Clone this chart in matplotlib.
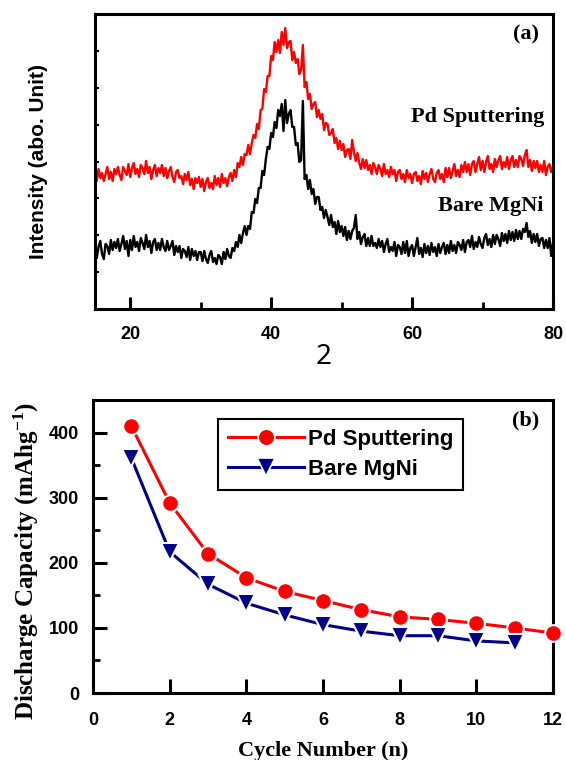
import numpy as np
import matplotlib
matplotlib.use("Agg")
import matplotlib.pyplot as plt
from matplotlib.ticker import MultipleLocator
from matplotlib.lines import Line2D

# ---------------- data ----------------
# XRD patterns (2-theta from 15 to 80 deg, step 0.25), intensity in arbitrary units
two_theta_start = 15.0
two_theta_stop = 80.0
xrd_pd = [
    137,128,140,131,136,128,135,142,130,137,128,140,135,142,134,129,142,138,134,145,
    132,141,146,135,140,132,144,141,135,148,136,142,130,139,144,133,141,136,144,133,
    141,131,138,142,132,127,137,139,131,133,125,135,129,137,124,130,120,131,126,132,
    122,130,118,127,131,121,126,120,133,124,131,122,135,126,131,123,132,136,128,139,
    132,146,142,152,144,155,154,164,155,166,174,171,185,180,199,200,220,217,233,233,
    253,249,267,257,269,256,277,264,281,261,267,268,249,257,246,250,235,239,264,222,
    227,210,215,200,205,207,192,199,190,195,179,186,185,174,176,180,166,171,160,168,
    159,165,152,159,160,150,169,157,148,156,146,140,150,141,149,139,144,135,146,142,
    135,144,140,133,145,135,139,132,142,135,139,128,137,139,130,135,127,139,131,135,
    126,135,137,128,133,125,138,130,136,127,135,140,130,127,136,139,130,135,127,141,
    132,141,131,138,145,133,139,132,144,137,147,137,145,134,145,148,137,145,152,139,
    148,137,147,153,140,145,137,150,142,149,153,140,147,142,152,140,149,153,142,149,
    142,153,150,143,154,159,142,149,138,148,141,148,137,144,137,148,134,142,145,137,
    142,
]
xrd_bare = [
    64,51,62,68,55,50,65,63,55,69,59,67,61,70,58,65,73,60,68,53,
    69,59,73,62,67,58,71,66,60,74,62,68,56,67,70,59,66,59,70,62,
    58,68,59,63,68,54,63,57,63,51,60,58,52,62,49,60,53,58,49,57,
    57,48,58,50,46,54,58,47,51,45,54,52,45,57,50,60,53,51,61,58,
    67,62,74,66,76,83,74,83,80,97,96,110,106,121,121,138,134,150,162,160,
    176,172,187,181,199,193,205,178,209,186,195,199,182,182,164,166,147,149,208,130,
    134,120,129,115,120,105,112,112,99,102,91,99,92,84,94,82,87,75,88,77,
    83,73,82,69,78,70,78,81,94,70,77,65,72,75,63,71,63,73,63,66,
    61,70,62,68,57,65,70,57,62,58,67,53,64,62,55,67,56,68,53,61,
    64,53,62,71,55,61,52,65,56,63,54,66,57,62,53,65,56,62,66,55,
    64,56,68,58,64,56,67,64,59,69,57,67,69,62,73,60,67,62,72,65,
    61,71,75,64,70,62,74,65,74,70,63,76,68,75,66,78,69,77,68,79,
    70,78,70,80,77,86,72,78,66,75,67,75,63,70,71,61,69,61,71,53,
    66,
]
xrd_labels = ["Pd Sputtering", "Bare MgNi"]

# Discharge capacity vs cycle
cycles_pd = [1, 2, 3, 4, 5, 6, 7, 8, 9, 10, 11, 12]
capacity_pd = [410, 292, 214, 177, 156, 142, 128, 117, 113, 107, 100, 92]
cycles_bare = [1, 2, 3, 4, 5, 6, 7, 8, 9, 10, 11]
capacity_bare = [361, 217, 167, 138, 120, 105, 95, 88, 88, 80, 77]

# ---------------- figure ----------------
plt.rcParams["mathtext.fontset"] = "custom"
plt.rcParams["mathtext.rm"] = "Liberation Serif:bold"
plt.rcParams["mathtext.bf"] = "Liberation Serif:bold"
plt.rcParams["mathtext.it"] = "Liberation Serif:bold:italic"

W, H = 566, 760
fig = plt.figure(figsize=(W / 100, H / 100), dpi=100)

def ax_rect(l, r, t, b):
    return [l / W, 1 - b / H, (r - l) / W, (b - t) / H]

SANS = ["Liberation Sans", "DejaVu Sans"]
SERIF = ["Liberation Serif", "DejaVu Serif"]
SPINE_W = 2.2

# ---- panel (a) ----
ax1 = fig.add_axes(ax_rect(95, 553, 14, 309))
tt = np.linspace(two_theta_start, two_theta_stop, len(xrd_pd))
ax1.plot(tt, xrd_bare, color="black", lw=1.7)
ax1.plot(tt, xrd_pd, color="#ff0000", lw=1.7)
ax1.set_xlim(15, 80)
ax1.set_ylim(0, 295)
ax1.xaxis.set_major_locator(MultipleLocator(20))
ax1.xaxis.set_minor_locator(MultipleLocator(10))
ax1.yaxis.set_major_locator(MultipleLocator(295 / 8))
ax1.tick_params(axis="x", which="major", direction="in", length=9, width=2.2, pad=12,
                labelsize=13)
ax1.tick_params(axis="x", which="minor", direction="in", length=5, width=2.0)
ax1.tick_params(axis="y", which="major", direction="in", length=3, width=1.5, labelleft=False)
for lab in ax1.get_xticklabels():
    lab.set_fontfamily(SANS)
    lab.set_fontweight("bold")
for s in ax1.spines.values():
    s.set_linewidth(SPINE_W)
ax1.set_ylabel("Intensity (abo. Unit)", family=SANS, fontweight="bold", fontsize=15,
               labelpad=34)
ax1.set_xlabel("2", family=["Noto Sans", "DejaVu Sans"], fontsize=20, labelpad=0)
ax1.text(0.97, 0.93, "(a)", transform=ax1.transAxes, family=SERIF, fontweight="bold",
         fontsize=16, ha="right", va="center")
ax1.text(78.8, 192, xrd_labels[0], family=SERIF, fontweight="bold", fontsize=16,
         ha="right", va="center")
ax1.text(78.6, 103, xrd_labels[1], family=SERIF, fontweight="bold", fontsize=16,
         ha="right", va="center")

# ---- panel (b) ----
ax2 = fig.add_axes(ax_rect(93, 553, 400, 693))
ax2.plot(cycles_pd, capacity_pd, color="#ff0000", lw=2.2, marker="o", markersize=12,
         markerfacecolor="#ff0000", markeredgecolor="white", markeredgewidth=1.5,
         label="Pd Sputtering", clip_on=False, zorder=3)
ax2.plot(cycles_bare, capacity_bare, color="#00008b", lw=2.2, marker="v", markersize=13,
         markerfacecolor="#00008b", markeredgecolor="white", markeredgewidth=1.5,
         label="Bare MgNi", clip_on=False, zorder=3)
ax2.set_xlim(0, 12)
ax2.set_ylim(0, 450)
ax2.xaxis.set_major_locator(MultipleLocator(2))
ax2.yaxis.set_major_locator(MultipleLocator(100))
ax2.yaxis.set_minor_locator(MultipleLocator(50))
ax2.tick_params(axis="both", which="major", direction="in", length=10, width=2.2,
                labelsize=13)
ax2.tick_params(axis="x", which="major", pad=14)
ax2.tick_params(axis="y", which="major", pad=10)
ax2.tick_params(axis="y", which="minor", direction="in", length=5, width=2.0)
for lab in ax2.get_xticklabels() + ax2.get_yticklabels():
    lab.set_fontfamily(SANS)
    lab.set_fontweight("bold")
for s in ax2.spines.values():
    s.set_linewidth(SPINE_W)
ax2.set_xlabel("Cycle Number (n)", family=SERIF, fontweight="bold", fontsize=16,
               labelpad=8)
ax2.set_ylabel("Discharge Capacity (mAhg$^{\\mathbf{-1}}$)", family=SERIF,
               fontweight="bold", fontsize=18)
ax2.yaxis.set_label_coords(-0.112, 0.45)
ax2.text(0.97, 0.93, "(b)", transform=ax2.transAxes, family=SERIF, fontweight="bold",
         fontsize=16, ha="right", va="center")

handles = [
    Line2D([], [], color="#ff0000", lw=2.2, marker="o", markersize=12,
           markeredgecolor="white", markeredgewidth=1.2),
    Line2D([], [], color="#00008b", lw=2.2, marker="v", markersize=13,
           markeredgecolor="white", markeredgewidth=1.2),
]
leg = ax2.legend(handles, ["Pd Sputtering", "Bare MgNi"], loc="upper left",
                 bbox_to_anchor=(0.272, 0.935), borderaxespad=0, fancybox=False,
                 framealpha=1, edgecolor="black", handlelength=3.4, handletextpad=0.2,
                 labelspacing=0.4, borderpad=0.45,
                 prop={"family": SANS, "weight": "bold", "size": 16})
leg.get_frame().set_linewidth(1.5)

fig.savefig("out.png", dpi=100)
